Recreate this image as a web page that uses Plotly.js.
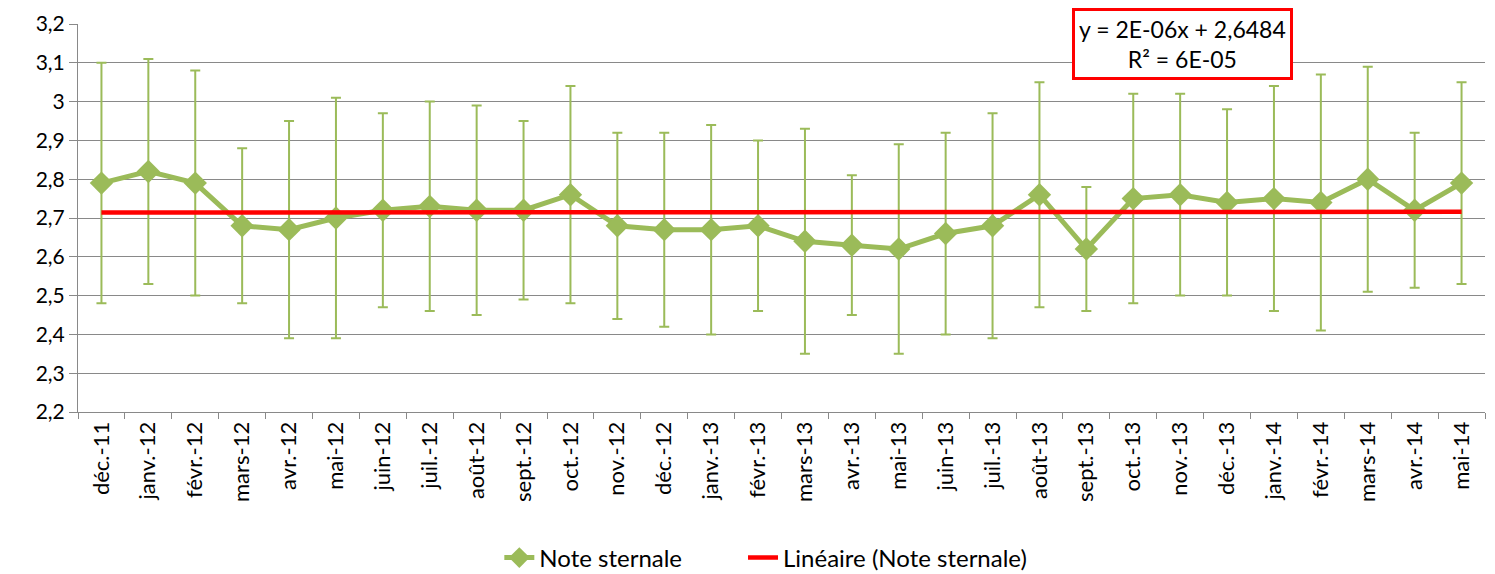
<!DOCTYPE html>
<html>
<head>
<meta charset="utf-8">
<script src="https://cdn.plot.ly/plotly-3.0.1.min.js"></script>
<style>html,body{margin:0;padding:0;background:#fff;}#chart{width:1495px;height:574px;}</style>
</head>
<body>
<div id="chart"></div>
<script>
const months = ["déc.-11","janv.-12","févr.-12","mars-12","avr.-12","mai-12","juin-12","juil.-12","août-12","sept.-12","oct.-12","nov.-12","déc.-12","janv.-13","févr.-13","mars-13","avr.-13","mai-13","juin-13","juil.-13","août-13","sept.-13","oct.-13","nov.-13","déc.-13","janv.-14","févr.-14","mars-14","avr.-14","mai-14"];
const noteSternale = [2.79,2.82,2.79,2.68,2.67,2.70,2.72,2.73,2.72,2.72,2.76,2.68,2.67,2.67,2.68,2.64,2.63,2.62,2.66,2.68,2.76,2.62,2.75,2.76,2.74,2.75,2.74,2.80,2.72,2.79];
const upperBound = [3.10,3.11,3.08,2.88,2.95,3.01,2.97,3.00,2.99,2.95,3.04,2.92,2.92,2.94,2.90,2.93,2.81,2.89,2.92,2.97,3.05,2.78,3.02,3.02,2.98,3.04,3.07,3.09,2.92,3.05];
const lowerBound = [2.48,2.53,2.50,2.48,2.39,2.39,2.47,2.46,2.45,2.49,2.48,2.44,2.42,2.40,2.46,2.35,2.45,2.35,2.40,2.39,2.47,2.46,2.48,2.50,2.50,2.46,2.41,2.51,2.52,2.53];
const trendX = ["déc.-11","mai-14"];
const trendY = [2.714,2.716];
const yTicks = [2.2,2.3,2.4,2.5,2.6,2.7,2.8,2.9,3.0,3.1,3.2];
const yTickText = ["2,2","2,3","2,4","2,5","2,6","2,7","2,8","2,9","3","3,1","3,2"];
const equationText = "y = 2E-06x + 2,6484<br>R² = 6E-05";

const green = "#9BBB59";
const errPlus = upperBound.map((u,i)=>+(u-noteSternale[i]).toFixed(3));
const errMinus = lowerBound.map((l,i)=>+(noteSternale[i]-l).toFixed(3));

const traces = [
  {
    x: months, y: noteSternale, type: "scatter", mode: "lines+markers",
    name: "Note sternale", legend: "legend",
    line: {color: green, width: 5},
    marker: {symbol: "diamond", size: 18, color: green},
    error_y: {type: "data", symmetric: false, array: errPlus, arrayminus: errMinus,
              color: green, thickness: 2, width: 5}
  },
  {
    x: trendX, y: trendY, type: "scatter", mode: "lines",
    name: "Linéaire (Note sternale)", legend: "legend2",
    line: {color: "#FF0000", width: 4.5}
  }
];

const legendBase = {orientation: "h", xref: "container", yref: "container",
                    xanchor: "left", y: 0.028, yanchor: "middle",
                    font: {size: 24}, bgcolor: "rgba(0,0,0,0)"};

const layout = {
  width: 1495, height: 574,
  margin: {l: 78, r: 10, t: 24, b: 162},
  paper_bgcolor: "#fff", plot_bgcolor: "#fff",
  font: {family: "Lato, 'Open Sans', sans-serif", color: "#000", size: 18},
  separators: ", ",
  showlegend: true,
  legend: Object.assign({}, legendBase, {x: 0.334}),
  legend2: Object.assign({}, legendBase, {x: 0.497}),
  xaxis: {
    type: "category", categoryorder: "array", categoryarray: months,
    range: [-0.5, months.length - 0.5],
    tickangle: -90, tickfont: {size: 22},
    showline: true, linecolor: "#898989", linewidth: 1,
    ticks: "outside", tickson: "boundaries", ticklen: 6, tickcolor: "#898989",
    showgrid: false, zeroline: false, automargin: false
  },
  yaxis: {
    range: [2.2, 3.2], tickvals: yTicks, ticktext: yTickText,
    tickfont: {size: 21},
    showline: true, linecolor: "#898989", linewidth: 1,
    ticks: "outside", ticklen: 8, tickcolor: "#898989",
    showgrid: true, gridcolor: "#898989", gridwidth: 1,
    zeroline: false, automargin: false
  },
  annotations: [{
    xref: "paper", yref: "paper", x: 0.785, y: 0.948, xanchor: "center", yanchor: "middle",
    text: equationText, showarrow: false, align: "center",
    font: {size: 23, color: "#000"},
    bgcolor: "#fff", bordercolor: "#FF0000", borderwidth: 3, borderpad: 4
  }]
};

Plotly.newPlot("chart", traces, layout, {displayModeBar: false, staticPlot: true});
</script>
</body>
</html>
